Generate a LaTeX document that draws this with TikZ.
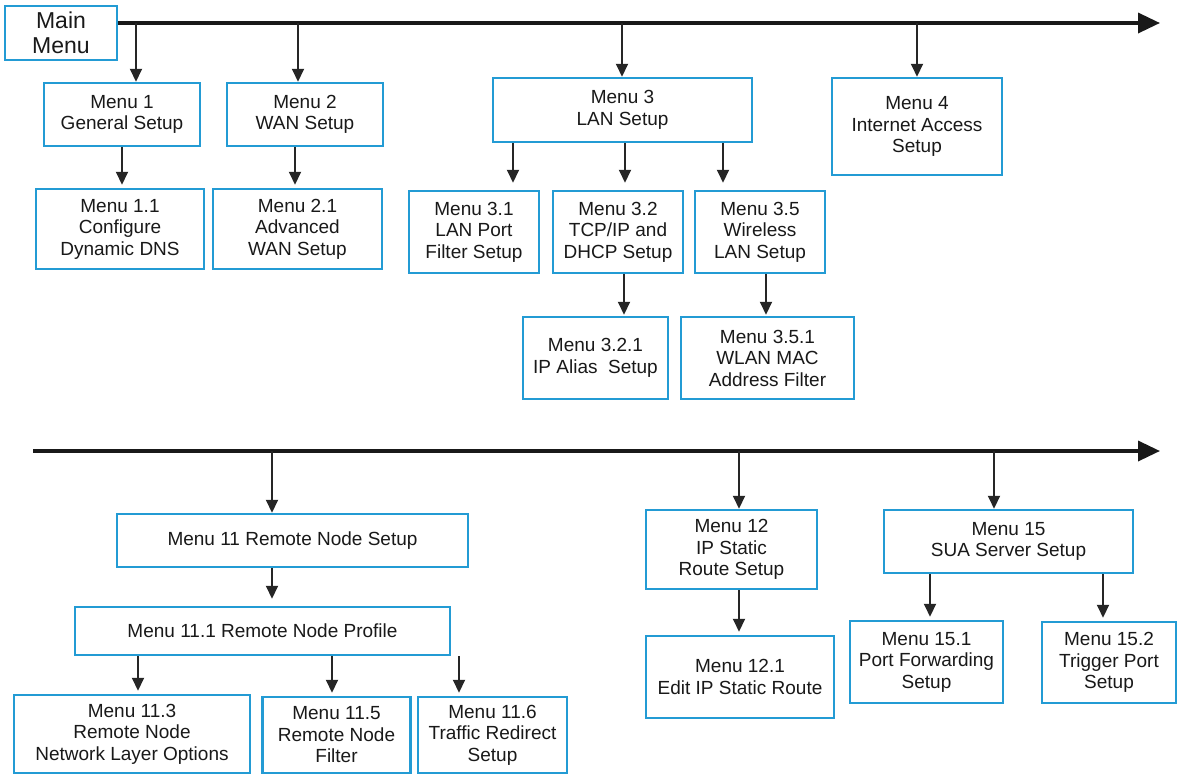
\documentclass[tikz,border=0pt]{standalone}
\usepackage{fontspec}
\setmainfont{Liberation Sans}
\usetikzlibrary{arrows.meta}
\definecolor{boxblue}{RGB}{35,155,212}
\definecolor{txt}{RGB}{25,25,25}
\begin{document}
\begin{tikzpicture}[x=1pt,y=-1pt,
  box/.style={draw=boxblue, line width=2.5pt, fill=white, align=center, inner sep=2pt,
    text=txt, font=\fontsize{19}{21.5}\selectfont},
  bigline/.style={line width=3.5pt, draw=black!90, -{Triangle[length=22pt,width=20pt]}},
  arr/.style={line width=2pt, draw=black!85, -{Triangle[length=13pt,width=12pt]}},
  child/.style={arr, shorten >=3pt}]
\useasboundingbox (0,0) rectangle (1180,777);

% ---------- top row ----------
\node[box, minimum width=112pt, minimum height=54pt, font=\fontsize{23}{25}\selectfont] (main) at (61,33) {Main\\Menu};
\coordinate (topend) at (1160,23);
\draw[bigline] (main.east |- topend) -- (topend);
\coordinate (b1) at (136,23);
\coordinate (b2) at (298,23);
\coordinate (b3) at (622,23);
\coordinate (b4) at (917,23);

\node[box, minimum width=156pt, minimum height=63pt] (m1) at (122,114.5) {Menu 1\\General Setup};
\node[box, minimum width=156pt, minimum height=63pt] (m2) at (305,114.5) {Menu 2\\WAN Setup};
\node[box, minimum width=168pt, minimum height=80pt] (m11) at (120,229) {Menu 1.1\\Configure\\Dynamic DNS};
\node[box, minimum width=169pt, minimum height=80pt] (m21) at (297.5,229) {Menu 2.1\\Advanced\\WAN Setup};
\node[box, minimum width=259pt, minimum height=64pt] (m3) at (622.5,110) {Menu 3\\LAN Setup};
\node[box, minimum width=130pt, minimum height=82pt] (m31) at (474,232) {Menu 3.1\\LAN Port\\Filter Setup};
\node[box, minimum width=130pt, minimum height=82pt] (m32) at (618,232) {Menu 3.2\\TCP/IP and\\DHCP Setup};
\node[box, minimum width=130pt, minimum height=82pt] (m35) at (760,232) {Menu 3.5\\Wireless\\LAN Setup};
\node[box, minimum width=170pt, minimum height=97pt] (m4) at (917,126.5) {Menu 4\\Internet Access\\Setup};
\node[box, minimum width=145pt, minimum height=82pt] (m321) at (595.5,358) {Menu 3.2.1\\IP Alias\ \ Setup};
\node[box, minimum width=173pt, minimum height=82pt] (m351) at (767.5,358) {Menu 3.5.1\\WLAN MAC\\Address Filter};

\draw[arr] (b1) -- (b1 |- m1.north);
\draw[arr] (b2) -- (b2 |- m2.north);
\draw[arr] (b3) -- (b3 |- m3.north);
\draw[arr] (b4) -- (b4 |- m4.north);
\draw[child] (m1.south) -- (m1.south |- m11.north);
\draw[child] ([xshift=-10pt]m2.south) -- ([xshift=-10pt]m2.south |- m21.north);
\draw[arr, shorten >=7pt] ([xshift=-109.5pt]m3.south) -- ([xshift=-109.5pt]m3.south |- m31.north);
\draw[arr, shorten >=7pt] ([xshift=2.5pt]m3.south) -- ([xshift=2.5pt]m3.south |- m32.north);
\draw[arr, shorten >=7pt] ([xshift=100.5pt]m3.south) -- ([xshift=100.5pt]m3.south |- m35.north);
\draw[arr, shorten >=1pt] ([xshift=6pt]m32.south) -- ([xshift=6pt]m32.south |- m321.north);
\draw[arr, shorten >=1pt] ([xshift=6pt]m35.south) -- ([xshift=6pt]m35.south |- m351.north);

% ---------- bottom row ----------
\coordinate (botstart) at (33,451);
\coordinate (botend) at (1160,451);
\draw[bigline] (botstart) -- (botend);
\coordinate (c1) at (272,451);
\coordinate (c2) at (739,451);
\coordinate (c3) at (994,451);

\node[box, minimum width=351pt, minimum height=53pt] (m11b) at (292.5,540.5) {Menu 11 Remote Node Setup};
\node[box, minimum width=375pt, minimum height=48pt] (m111) at (262.5,631) {Menu 11.1 Remote Node Profile};
\node[box, minimum width=236pt, minimum height=78pt] (m113) at (132,734) {Menu 11.3\\Remote Node\\Network Layer Options};
\node[box, minimum width=148pt, minimum height=76pt] (m115) at (336.5,735) {Menu 11.5\\Remote Node\\Filter};
\node[box, minimum width=149pt, minimum height=76pt] (m116) at (492.5,735) {Menu 11.6\\Traffic Redirect\\Setup};
\node[box, minimum width=171pt, minimum height=79pt] (m12) at (731.5,549.5) {Menu 12\\IP Static\\Route Setup};
\node[box, minimum width=188pt, minimum height=82pt] (m121) at (740,677) {Menu 12.1\\Edit IP Static Route};
\node[box, minimum width=249pt, minimum height=63pt] (m15) at (1008.5,541.5) {Menu 15\\SUA Server Setup};
\node[box, minimum width=153pt, minimum height=82pt] (m151) at (926.5,662) {Menu 15.1\\Port Forwarding\\Setup};
\node[box, minimum width=134pt, minimum height=81pt] (m152) at (1109,662.5) {Menu 15.2\\Trigger Port\\Setup};

\draw[arr] (c1) -- (c1 |- m11b.north);
\draw[arr] (c2) -- (c2 |- m12.north);
\draw[arr] (c3) -- (c3 |- m15.north);
\draw[arr, shorten >=7pt] ([xshift=-20.5pt]m11b.south) -- ([xshift=-20.5pt]m11b.south |- m111.north);
\draw[child] ([xshift=-124.5pt]m111.south) -- ([xshift=-124.5pt]m111.south |- m113.north);
\draw[child] ([xshift=69.5pt]m111.south) -- ([xshift=69.5pt]m111.south |- m115.north);
\draw[child] ([xshift=196.5pt]m111.south) -- ([xshift=196.5pt]m111.south |- m116.north);
\draw[child] ([xshift=7.5pt]m12.south) -- ([xshift=7.5pt]m12.south |- m121.north);
\draw[child] ([xshift=-78.5pt]m15.south) -- ([xshift=-78.5pt]m15.south |- m151.north);
\draw[child] ([xshift=94.5pt]m15.south) -- ([xshift=94.5pt]m15.south |- m152.north);
\end{tikzpicture}
\end{document}
